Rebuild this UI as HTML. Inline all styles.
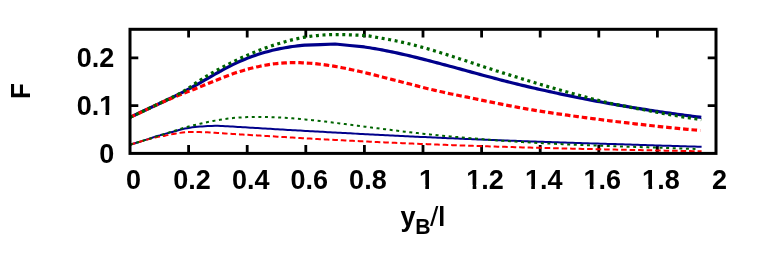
<!DOCTYPE html>
<html><head><meta charset="utf-8"><title>plot</title>
<style>
html,body{margin:0;padding:0;background:#fff;}
body{width:764px;height:265px;overflow:hidden;font-family:"Liberation Sans",sans-serif;}
svg{display:block;will-change:transform;}
text{font-family:"Liberation Sans",sans-serif;font-weight:bold;fill:#000;}
</style></head><body>
<svg width="764" height="265" viewBox="0 0 764 265">
<rect x="0" y="0" width="764" height="265" fill="#ffffff"/>
<path d="M188.60 153.40V145.10 M188.60 29.30V37.60 M247.20 153.40V145.10 M247.20 29.30V37.60 M305.80 153.40V145.10 M305.80 29.30V37.60 M364.40 153.40V145.10 M364.40 29.30V37.60 M423.00 153.40V145.10 M423.00 29.30V37.60 M481.60 153.40V145.10 M481.60 29.30V37.60 M540.20 153.40V145.10 M540.20 29.30V37.60 M598.80 153.40V145.10 M598.80 29.30V37.60 M657.40 153.40V145.10 M657.40 29.30V37.60 M130.00 105.65H138.30 M716.00 105.65H707.70 M130.00 57.90H138.30 M716.00 57.90H707.70 " stroke="#000" stroke-width="2.8" fill="none"/>
<g fill="none" stroke-linejoin="round" stroke-linecap="butt">
<path d="M130.00 117.40 C130.83 116.99 133.33 115.76 135.00 114.95 C136.67 114.15 138.33 113.35 140.00 112.56 C141.67 111.77 143.33 110.99 145.00 110.21 C146.67 109.43 148.33 108.66 150.00 107.89 C151.67 107.12 153.33 106.35 155.00 105.58 C156.67 104.81 158.33 104.04 160.00 103.27 C161.67 102.49 163.33 101.72 165.00 100.93 C166.67 100.15 168.33 99.36 170.00 98.56 C171.67 97.76 173.33 96.95 175.00 96.13 C176.67 95.31 178.33 94.48 180.00 93.64 C181.67 92.79 183.33 91.93 185.00 91.05 C186.67 90.18 188.33 89.28 190.00 88.37 C191.67 87.47 193.33 86.54 195.00 85.61 C196.67 84.68 198.33 83.74 200.00 82.79 C201.67 81.85 203.33 80.89 205.00 79.94 C206.67 78.99 208.33 78.03 210.00 77.07 C211.67 76.12 213.33 75.17 215.00 74.22 C216.67 73.28 218.33 72.34 220.00 71.41 C221.67 70.49 223.33 69.57 225.00 68.68 C226.67 67.78 228.33 66.91 230.00 66.06 C231.67 65.22 233.33 64.39 235.00 63.60 C236.67 62.81 238.33 62.04 240.00 61.31 C241.67 60.57 243.33 59.86 245.00 59.18 C246.67 58.50 248.33 57.84 250.00 57.22 C251.67 56.59 253.33 55.99 255.00 55.42 C256.67 54.85 258.33 54.30 260.00 53.78 C261.67 53.26 263.33 52.77 265.00 52.30 C266.67 51.82 268.33 51.38 270.00 50.96 C271.67 50.53 273.33 50.13 275.00 49.75 C276.67 49.38 278.33 49.02 280.00 48.69 C281.67 48.35 283.33 48.04 285.00 47.75 C286.67 47.46 288.33 47.19 290.00 46.94 C291.67 46.68 293.33 46.45 295.00 46.24 C296.67 46.02 298.20 45.84 300.00 45.65 C301.80 45.46 304.83 45.19 305.80 45.10 C310.68 44.92 330.22 44.20 335.10 44.02 C339.98 44.51 359.52 46.47 364.40 46.96 C365.30 47.10 368.07 47.51 369.80 47.79 C371.53 48.06 373.13 48.33 374.80 48.62 C376.47 48.91 378.13 49.20 379.80 49.51 C381.47 49.82 383.13 50.13 384.80 50.46 C386.47 50.78 388.13 51.12 389.80 51.46 C391.47 51.80 393.13 52.15 394.80 52.51 C396.47 52.86 398.13 53.23 399.80 53.60 C401.47 53.97 403.13 54.35 404.80 54.73 C406.47 55.12 408.13 55.51 409.80 55.90 C411.47 56.30 413.13 56.70 414.80 57.10 C416.47 57.51 418.13 57.92 419.80 58.34 C421.47 58.75 423.13 59.17 424.80 59.59 C426.47 60.02 428.13 60.45 429.80 60.88 C431.47 61.31 433.13 61.74 434.80 62.18 C436.47 62.62 438.13 63.06 439.80 63.50 C441.47 63.95 443.13 64.39 444.80 64.84 C446.47 65.29 448.13 65.74 449.80 66.19 C451.47 66.64 453.13 67.09 454.80 67.55 C456.47 68.00 458.13 68.46 459.80 68.91 C461.47 69.37 463.13 69.82 464.80 70.28 C466.47 70.74 468.13 71.19 469.80 71.65 C471.47 72.10 473.13 72.56 474.80 73.01 C476.47 73.47 478.13 73.92 479.80 74.37 C481.47 74.82 483.13 75.28 484.80 75.72 C486.47 76.17 488.13 76.62 489.80 77.06 C491.47 77.51 493.13 77.95 494.80 78.39 C496.47 78.83 498.13 79.26 499.80 79.70 C501.47 80.13 503.13 80.56 504.80 80.99 C506.47 81.41 508.13 81.83 509.80 82.25 C511.47 82.67 513.13 83.09 514.80 83.50 C516.47 83.91 518.13 84.32 519.80 84.73 C521.47 85.13 523.13 85.53 524.80 85.93 C526.47 86.33 528.13 86.73 529.80 87.12 C531.47 87.51 533.13 87.90 534.80 88.29 C536.47 88.67 538.13 89.06 539.80 89.44 C541.47 89.81 543.13 90.19 544.80 90.56 C546.47 90.94 548.13 91.31 549.80 91.67 C551.47 92.04 553.13 92.41 554.80 92.77 C556.47 93.13 558.13 93.48 559.80 93.84 C561.47 94.19 563.13 94.54 564.80 94.89 C566.47 95.24 568.13 95.59 569.80 95.93 C571.47 96.27 573.13 96.61 574.80 96.95 C576.47 97.28 578.13 97.62 579.80 97.95 C581.47 98.28 583.13 98.61 584.80 98.93 C586.47 99.26 588.13 99.58 589.80 99.90 C591.47 100.22 593.13 100.53 594.80 100.85 C596.47 101.16 598.13 101.47 599.80 101.78 C601.47 102.09 603.13 102.39 604.80 102.70 C606.47 103.00 608.13 103.30 609.80 103.60 C611.47 103.89 613.13 104.19 614.80 104.48 C616.47 104.77 618.13 105.06 619.80 105.35 C621.47 105.63 623.13 105.92 624.80 106.20 C626.47 106.48 628.13 106.76 629.80 107.03 C631.47 107.31 633.13 107.58 634.80 107.85 C636.47 108.12 638.13 108.39 639.80 108.66 C641.47 108.92 643.13 109.19 644.80 109.45 C646.47 109.71 648.13 109.97 649.80 110.22 C651.47 110.48 653.13 110.73 654.80 110.98 C656.47 111.24 658.13 111.48 659.80 111.73 C661.47 111.98 663.13 112.22 664.80 112.46 C666.47 112.70 668.13 112.94 669.80 113.18 C671.47 113.42 673.13 113.65 674.80 113.89 C676.47 114.12 678.13 114.35 679.80 114.58 C681.47 114.81 683.13 115.03 684.80 115.25 C686.47 115.48 688.13 115.70 689.80 115.92 C691.47 116.14 693.13 116.36 694.80 116.57 C696.47 116.79 698.72 117.07 699.80 117.21 C700.88 117.35 701.05 117.37 701.30 117.40" stroke="#00008b" stroke-width="3.2"/>
<path d="M130.00 117.40 C130.83 117.01 133.33 115.84 135.00 115.05 C136.67 114.26 138.33 113.47 140.00 112.68 C141.67 111.88 143.33 111.09 145.00 110.30 C146.67 109.50 148.33 108.71 150.00 107.92 C151.67 107.14 153.33 106.36 155.00 105.58 C156.67 104.81 158.33 104.04 160.00 103.29 C161.67 102.54 163.33 101.79 165.00 101.06 C166.67 100.33 168.33 99.62 170.00 98.92 C171.67 98.22 173.33 97.54 175.00 96.86 C176.67 96.19 178.33 95.53 180.00 94.86 C181.67 94.19 183.33 93.50 185.00 92.84 C186.67 92.18 188.33 91.55 190.00 90.89 C191.67 90.24 193.33 89.57 195.00 88.90 C196.67 88.24 198.33 87.59 200.00 86.91 C201.67 86.22 203.33 85.50 205.00 84.80 C206.67 84.11 208.33 83.42 210.00 82.74 C211.67 82.06 213.33 81.41 215.00 80.73 C216.67 80.06 218.33 79.36 220.00 78.69 C221.67 78.02 223.33 77.36 225.00 76.71 C226.67 76.07 228.33 75.44 230.00 74.82 C231.67 74.20 233.33 73.58 235.00 73.02 C236.67 72.45 238.33 71.93 240.00 71.42 C241.67 70.90 243.33 70.40 245.00 69.92 C246.67 69.45 248.33 68.99 250.00 68.55 C251.67 68.12 253.33 67.70 255.00 67.31 C256.67 66.92 258.33 66.54 260.00 66.20 C261.67 65.85 263.33 65.53 265.00 65.23 C266.67 64.93 268.33 64.66 270.00 64.41 C271.67 64.16 273.33 63.94 275.00 63.74 C276.67 63.55 278.33 63.38 280.00 63.24 C281.67 63.10 283.33 62.98 285.00 62.89 C286.67 62.80 288.33 62.73 290.00 62.69 C291.67 62.65 293.33 62.63 295.00 62.64 C296.67 62.64 298.33 62.67 300.00 62.71 C301.67 62.76 303.33 62.83 305.00 62.92 C306.67 63.01 308.33 63.12 310.00 63.25 C311.67 63.37 313.33 63.52 315.00 63.68 C316.67 63.85 318.33 64.03 320.00 64.23 C321.67 64.43 323.33 64.64 325.00 64.87 C326.67 65.10 328.33 65.35 330.00 65.61 C331.67 65.86 333.33 66.14 335.00 66.42 C336.67 66.71 338.33 67.01 340.00 67.32 C341.67 67.63 343.33 67.95 345.00 68.28 C346.67 68.62 348.33 68.96 350.00 69.31 C351.67 69.66 353.33 70.03 355.00 70.40 C356.67 70.77 358.33 71.15 360.00 71.53 C361.67 71.92 363.33 72.31 365.00 72.71 C366.67 73.10 368.33 73.51 370.00 73.92 C371.67 74.33 373.33 74.74 375.00 75.16 C376.67 75.58 378.33 76.00 380.00 76.42 C381.67 76.84 383.33 77.27 385.00 77.70 C386.67 78.12 388.33 78.55 390.00 78.98 C391.67 79.41 393.33 79.84 395.00 80.27 C396.67 80.70 398.33 81.12 400.00 81.55 C401.67 81.97 403.33 82.40 405.00 82.82 C406.67 83.23 408.33 83.63 410.00 84.06 C411.67 84.49 413.33 84.95 415.00 85.39 C416.67 85.83 418.33 86.27 420.00 86.70 C421.67 87.14 423.33 87.58 425.00 87.99 C426.67 88.40 428.33 88.78 430.00 89.17 C431.67 89.56 433.33 89.94 435.00 90.33 C436.67 90.71 438.33 91.09 440.00 91.47 C441.67 91.84 443.33 92.22 445.00 92.59 C446.67 92.97 448.33 93.35 450.00 93.71 C451.67 94.06 453.33 94.39 455.00 94.73 C456.67 95.07 458.33 95.41 460.00 95.74 C461.67 96.08 463.33 96.41 465.00 96.74 C466.67 97.07 468.33 97.39 470.00 97.73 C471.67 98.07 473.33 98.43 475.00 98.78 C476.67 99.13 478.33 99.48 480.00 99.82 C481.67 100.17 483.33 100.51 485.00 100.86 C486.67 101.20 488.33 101.54 490.00 101.88 C491.67 102.22 493.33 102.56 495.00 102.90 C496.67 103.23 498.33 103.57 500.00 103.90 C501.67 104.23 503.33 104.56 505.00 104.89 C506.67 105.21 508.33 105.54 510.00 105.86 C511.67 106.18 513.33 106.49 515.00 106.80 C516.67 107.12 518.33 107.43 520.00 107.73 C521.67 108.04 523.33 108.34 525.00 108.63 C526.67 108.93 528.33 109.22 530.00 109.51 C531.67 109.79 533.33 110.07 535.00 110.35 C536.67 110.63 538.33 110.90 540.00 111.16 C541.67 111.43 543.33 111.69 545.00 111.94 C546.67 112.20 548.33 112.45 550.00 112.70 C551.67 112.95 553.33 113.20 555.00 113.44 C556.67 113.68 558.33 113.92 560.00 114.15 C561.67 114.39 563.33 114.62 565.00 114.86 C566.67 115.09 568.33 115.32 570.00 115.55 C571.67 115.78 573.33 116.00 575.00 116.23 C576.67 116.46 578.33 116.68 580.00 116.91 C581.67 117.13 583.33 117.35 585.00 117.57 C586.67 117.79 588.33 118.01 590.00 118.23 C591.67 118.45 593.33 118.67 595.00 118.89 C596.67 119.10 598.33 119.32 600.00 119.53 C601.67 119.74 603.33 119.95 605.00 120.16 C606.67 120.37 608.33 120.58 610.00 120.79 C611.67 121.00 613.33 121.21 615.00 121.41 C616.67 121.61 618.33 121.82 620.00 122.02 C621.67 122.22 623.33 122.42 625.00 122.62 C626.67 122.82 628.33 123.02 630.00 123.21 C631.67 123.41 633.33 123.60 635.00 123.79 C636.67 123.99 638.33 124.18 640.00 124.37 C641.67 124.56 643.33 124.75 645.00 124.93 C646.67 125.12 648.33 125.30 650.00 125.49 C651.67 125.67 653.33 125.85 655.00 126.03 C656.67 126.21 658.33 126.39 660.00 126.57 C661.67 126.74 663.33 126.92 665.00 127.09 C666.67 127.26 668.33 127.44 670.00 127.61 C671.67 127.78 673.33 127.94 675.00 128.11 C676.67 128.28 678.33 128.44 680.00 128.60 C681.67 128.77 683.33 128.93 685.00 129.09 C686.67 129.25 688.33 129.40 690.00 129.56 C691.67 129.72 693.28 129.87 695.00 130.02 C696.72 130.18 699.42 130.42 700.30 130.50" stroke="#ff0000" stroke-width="3.2" stroke-dasharray="5.6 2.9"/>
<path d="M130.00 117.40 C130.83 117.01 133.33 115.84 135.00 115.06 C136.67 114.27 138.33 113.49 140.00 112.70 C141.67 111.91 143.33 111.12 145.00 110.33 C146.67 109.53 148.33 108.74 150.00 107.94 C151.67 107.15 153.33 106.35 155.00 105.55 C156.67 104.75 158.33 103.95 160.00 103.15 C161.67 102.35 163.33 101.55 165.00 100.74 C166.67 99.94 168.33 99.14 170.00 98.33 C171.67 97.52 173.33 96.73 175.00 95.89 C176.67 95.05 178.33 94.22 180.00 93.31 C181.67 92.40 183.33 91.46 185.00 90.44 C186.67 89.42 188.33 88.32 190.00 87.20 C191.67 86.07 193.33 84.83 195.00 83.68 C196.67 82.53 198.33 81.40 200.00 80.30 C201.67 79.20 203.33 78.12 205.00 77.10 C206.67 76.07 208.33 75.11 210.00 74.14 C211.67 73.18 213.33 72.23 215.00 71.29 C216.67 70.36 218.33 69.44 220.00 68.54 C221.67 67.64 223.33 66.76 225.00 65.89 C226.67 65.02 228.33 64.17 230.00 63.34 C231.67 62.50 233.33 61.68 235.00 60.88 C236.67 60.07 238.33 59.28 240.00 58.51 C241.67 57.74 243.33 56.98 245.00 56.24 C246.67 55.50 248.33 54.77 250.00 54.06 C251.67 53.34 253.33 52.64 255.00 51.96 C256.67 51.28 258.33 50.59 260.00 49.95 C261.67 49.31 263.33 48.71 265.00 48.12 C266.67 47.52 268.33 46.94 270.00 46.38 C271.67 45.82 273.33 45.27 275.00 44.74 C276.67 44.22 278.33 43.72 280.00 43.22 C281.67 42.72 283.33 42.21 285.00 41.73 C286.67 41.26 288.33 40.80 290.00 40.37 C291.67 39.95 293.33 39.54 295.00 39.15 C296.67 38.77 298.33 38.41 300.00 38.07 C301.67 37.74 303.33 37.43 305.00 37.14 C306.67 36.85 308.33 36.59 310.00 36.35 C311.67 36.11 313.33 35.90 315.00 35.71 C316.67 35.52 318.33 35.36 320.00 35.23 C321.67 35.09 323.33 34.98 325.00 34.89 C326.67 34.80 328.33 34.74 330.00 34.69 C331.67 34.64 333.33 34.61 335.00 34.60 C336.67 34.58 338.33 34.59 340.00 34.60 C341.67 34.62 343.33 34.65 345.00 34.69 C346.67 34.73 348.33 34.78 350.00 34.84 C351.67 34.89 353.33 34.96 355.00 35.03 C356.67 35.10 358.33 35.16 360.00 35.25 C361.67 35.34 363.33 35.41 365.00 35.56 C366.67 35.71 368.33 35.89 370.00 36.14 C371.67 36.39 373.33 36.75 375.00 37.06 C376.67 37.36 378.33 37.67 380.00 37.97 C381.67 38.27 383.33 38.54 385.00 38.84 C386.67 39.13 388.33 39.41 390.00 39.72 C391.67 40.03 393.33 40.35 395.00 40.69 C396.67 41.02 398.33 41.37 400.00 41.74 C401.67 42.10 403.33 42.48 405.00 42.87 C406.67 43.26 408.33 43.66 410.00 44.07 C411.67 44.49 413.33 44.91 415.00 45.35 C416.67 45.78 418.33 46.23 420.00 46.68 C421.67 47.13 423.33 47.60 425.00 48.07 C426.67 48.54 428.33 49.02 430.00 49.51 C431.67 50.00 433.33 50.49 435.00 50.99 C436.67 51.49 438.33 52.00 440.00 52.52 C441.67 53.03 443.33 53.55 445.00 54.07 C446.67 54.60 448.33 55.13 450.00 55.66 C451.67 56.19 453.33 56.73 455.00 57.27 C456.67 57.81 458.33 58.35 460.00 58.90 C461.67 59.44 463.33 59.99 465.00 60.54 C466.67 61.09 468.33 61.64 470.00 62.19 C471.67 62.74 473.33 63.30 475.00 63.85 C476.67 64.40 478.33 64.95 480.00 65.50 C481.67 66.05 483.33 66.60 485.00 67.15 C486.67 67.70 488.33 68.24 490.00 68.79 C491.67 69.33 493.33 69.87 495.00 70.40 C496.67 70.94 498.33 71.47 500.00 72.00 C501.67 72.53 503.33 73.05 505.00 73.57 C506.67 74.09 508.33 74.61 510.00 75.12 C511.67 75.63 513.33 76.13 515.00 76.64 C516.67 77.14 518.33 77.63 520.00 78.14 C521.67 78.65 523.33 79.18 525.00 79.70 C526.67 80.21 528.33 80.73 530.00 81.24 C531.67 81.75 533.33 82.26 535.00 82.77 C536.67 83.27 538.33 83.78 540.00 84.28 C541.67 84.78 543.33 85.29 545.00 85.78 C546.67 86.27 548.33 86.72 550.00 87.19 C551.67 87.66 553.33 88.13 555.00 88.59 C556.67 89.06 558.33 89.53 560.00 89.99 C561.67 90.46 563.33 90.92 565.00 91.39 C566.67 91.85 568.33 92.31 570.00 92.78 C571.67 93.24 573.33 93.71 575.00 94.17 C576.67 94.63 578.33 95.09 580.00 95.55 C581.67 96.00 583.33 96.46 585.00 96.91 C586.67 97.36 588.33 97.81 590.00 98.25 C591.67 98.69 593.33 99.12 595.00 99.55 C596.67 99.98 598.33 100.41 600.00 100.82 C601.67 101.24 603.33 101.65 605.00 102.04 C606.67 102.44 608.33 102.84 610.00 103.22 C611.67 103.59 613.33 103.92 615.00 104.27 C616.67 104.61 618.33 104.95 620.00 105.28 C621.67 105.61 623.33 105.94 625.00 106.26 C626.67 106.58 628.33 106.89 630.00 107.21 C631.67 107.52 633.33 107.83 635.00 108.14 C636.67 108.45 638.33 108.74 640.00 109.06 C641.67 109.37 643.33 109.71 645.00 110.03 C646.67 110.35 648.33 110.67 650.00 110.99 C651.67 111.30 653.33 111.61 655.00 111.92 C656.67 112.23 658.33 112.54 660.00 112.85 C661.67 113.15 663.33 113.45 665.00 113.75 C666.67 114.05 668.33 114.34 670.00 114.64 C671.67 114.93 673.33 115.22 675.00 115.50 C676.67 115.79 678.33 116.07 680.00 116.35 C681.67 116.63 683.33 116.90 685.00 117.17 C686.67 117.44 688.33 117.71 690.00 117.97 C691.67 118.24 693.33 118.50 695.00 118.75 C696.67 119.01 698.95 119.35 700.00 119.51 C701.05 119.67 701.08 119.67 701.30 119.70" stroke="#006400" stroke-width="3.2" stroke-dasharray="3.0 3.6"/>
<path d="M130.00 144.70 C130.83 144.45 133.33 143.73 135.00 143.23 C136.67 142.73 138.33 142.22 140.00 141.69 C141.67 141.17 143.33 140.63 145.00 140.10 C146.67 139.56 148.33 139.04 150.00 138.49 C151.67 137.95 153.33 137.34 155.00 136.82 C156.67 136.30 158.33 135.84 160.00 135.35 C161.67 134.86 163.33 134.35 165.00 133.88 C166.67 133.40 168.33 132.94 170.00 132.50 C171.67 132.06 173.33 131.68 175.00 131.23 C176.67 130.78 178.33 130.23 180.00 129.78 C181.67 129.34 183.33 128.91 185.00 128.55 C186.67 128.19 188.33 127.90 190.00 127.64 C191.67 127.38 193.33 127.17 195.00 126.98 C196.67 126.79 198.33 126.64 200.00 126.51 C201.67 126.37 203.33 126.27 205.00 126.18 C206.67 126.09 208.33 126.02 210.00 125.95 C211.67 125.89 213.70 125.83 215.00 125.78 C216.30 125.74 217.33 125.71 217.80 125.69 C218.63 125.74 221.13 125.89 222.80 125.99 C224.47 126.09 226.13 126.19 227.80 126.30 C229.47 126.40 231.13 126.50 232.80 126.60 C234.47 126.70 236.13 126.81 237.80 126.91 C239.47 127.01 241.13 127.11 242.80 127.21 C244.47 127.31 246.13 127.41 247.80 127.51 C249.47 127.61 251.13 127.71 252.80 127.81 C254.47 127.91 256.13 128.01 257.80 128.11 C259.47 128.21 261.13 128.31 262.80 128.41 C264.47 128.51 266.13 128.61 267.80 128.71 C269.47 128.81 271.13 128.91 272.80 129.00 C274.47 129.10 276.13 129.20 277.80 129.30 C279.47 129.40 281.13 129.49 282.80 129.59 C284.47 129.69 286.13 129.78 287.80 129.88 C289.47 129.98 291.13 130.07 292.80 130.17 C294.47 130.27 296.13 130.36 297.80 130.46 C299.47 130.55 301.13 130.65 302.80 130.74 C304.47 130.84 306.13 130.93 307.80 131.03 C309.47 131.12 311.13 131.21 312.80 131.31 C314.47 131.40 316.13 131.49 317.80 131.59 C319.47 131.68 321.13 131.77 322.80 131.87 C324.47 131.96 326.13 132.05 327.80 132.14 C329.47 132.23 331.13 132.33 332.80 132.42 C334.47 132.51 336.13 132.60 337.80 132.69 C339.47 132.78 341.13 132.87 342.80 132.96 C344.47 133.05 346.13 133.14 347.80 133.23 C349.47 133.32 351.13 133.41 352.80 133.49 C354.47 133.58 356.13 133.67 357.80 133.76 C359.47 133.85 361.13 133.93 362.80 134.02 C364.47 134.11 366.13 134.20 367.80 134.28 C369.47 134.37 371.13 134.45 372.80 134.54 C374.47 134.63 376.13 134.71 377.80 134.80 C379.47 134.88 381.13 134.97 382.80 135.05 C384.47 135.13 386.13 135.22 387.80 135.30 C389.47 135.38 391.13 135.47 392.80 135.55 C394.47 135.63 396.13 135.72 397.80 135.80 C399.47 135.88 401.13 135.96 402.80 136.04 C404.47 136.12 406.13 136.20 407.80 136.28 C409.47 136.36 411.13 136.44 412.80 136.52 C414.47 136.60 416.13 136.68 417.80 136.76 C419.47 136.84 421.13 136.92 422.80 137.00 C424.47 137.07 426.13 137.15 427.80 137.23 C429.47 137.30 431.13 137.38 432.80 137.46 C434.47 137.53 436.13 137.61 437.80 137.68 C439.47 137.76 441.13 137.83 442.80 137.91 C444.47 137.98 446.13 138.06 447.80 138.13 C449.47 138.20 451.13 138.28 452.80 138.35 C454.47 138.42 456.13 138.49 457.80 138.57 C459.47 138.64 461.13 138.71 462.80 138.78 C464.47 138.85 466.13 138.92 467.80 138.99 C469.47 139.06 471.13 139.13 472.80 139.20 C474.47 139.27 476.13 139.34 477.80 139.40 C479.47 139.47 481.13 139.54 482.80 139.61 C484.47 139.67 486.13 139.74 487.80 139.81 C489.47 139.87 491.13 139.94 492.80 140.01 C494.47 140.07 496.13 140.14 497.80 140.20 C499.47 140.26 501.13 140.33 502.80 140.39 C504.47 140.46 506.13 140.52 507.80 140.58 C509.47 140.65 511.13 140.71 512.80 140.77 C514.47 140.83 516.13 140.89 517.80 140.96 C519.47 141.02 521.13 141.08 522.80 141.14 C524.47 141.20 526.13 141.26 527.80 141.32 C529.47 141.38 531.13 141.44 532.80 141.50 C534.47 141.55 536.13 141.61 537.80 141.67 C539.47 141.73 541.13 141.79 542.80 141.84 C544.47 141.90 546.13 141.96 547.80 142.02 C549.47 142.07 551.13 142.13 552.80 142.18 C554.47 142.24 556.13 142.29 557.80 142.35 C559.47 142.40 561.13 142.46 562.80 142.51 C564.47 142.57 566.13 142.62 567.80 142.68 C569.47 142.73 571.13 142.78 572.80 142.84 C574.47 142.89 576.13 142.94 577.80 142.99 C579.47 143.04 581.13 143.10 582.80 143.15 C584.47 143.20 586.13 143.25 587.80 143.30 C589.47 143.35 591.13 143.40 592.80 143.45 C594.47 143.50 596.13 143.55 597.80 143.60 C599.47 143.65 601.13 143.70 602.80 143.75 C604.47 143.80 606.13 143.85 607.80 143.89 C609.47 143.94 611.13 143.99 612.80 144.04 C614.47 144.08 616.13 144.13 617.80 144.18 C619.47 144.23 621.13 144.28 622.80 144.34 C624.47 144.39 626.13 144.45 627.80 144.50 C629.47 144.56 631.13 144.62 632.80 144.67 C634.47 144.73 636.13 144.78 637.80 144.83 C639.47 144.89 641.13 144.94 642.80 145.00 C644.47 145.05 646.13 145.11 647.80 145.16 C649.47 145.21 651.13 145.27 652.80 145.32 C654.47 145.37 656.13 145.42 657.80 145.48 C659.47 145.53 661.13 145.58 662.80 145.63 C664.47 145.68 666.13 145.74 667.80 145.79 C669.47 145.84 671.13 145.89 672.80 145.94 C674.47 145.99 676.13 146.04 677.80 146.09 C679.47 146.14 681.13 146.19 682.80 146.24 C684.47 146.29 686.13 146.34 687.80 146.39 C689.47 146.44 691.13 146.49 692.80 146.53 C694.47 146.58 696.33 146.64 697.80 146.68 C699.27 146.72 700.97 146.77 701.60 146.78" stroke="#00008b" stroke-width="2.0"/>
<path d="M130.00 144.70 C130.83 144.46 133.33 143.74 135.00 143.24 C136.67 142.74 138.33 142.22 140.00 141.71 C141.67 141.19 143.33 140.63 145.00 140.16 C146.67 139.68 148.33 139.27 150.00 138.84 C151.67 138.41 153.33 137.97 155.00 137.60 C156.67 137.23 158.33 136.92 160.00 136.61 C161.67 136.31 163.33 136.08 165.00 135.75 C166.67 135.42 168.33 134.98 170.00 134.63 C171.67 134.28 173.33 133.95 175.00 133.66 C176.67 133.37 178.33 133.09 180.00 132.87 C181.67 132.64 183.33 132.44 185.00 132.30 C186.67 132.16 188.33 132.09 190.00 132.04 C191.67 131.99 193.33 131.98 195.00 131.99 C196.67 132.00 198.33 132.03 200.00 132.08 C201.67 132.12 203.33 132.18 205.00 132.25 C206.67 132.32 208.33 132.40 210.00 132.48 C211.67 132.57 213.33 132.67 215.00 132.77 C216.67 132.87 218.33 132.98 220.00 133.09 C221.67 133.20 223.33 133.32 225.00 133.44 C226.67 133.55 228.33 133.69 230.00 133.80 C231.67 133.91 233.33 134.01 235.00 134.11 C236.67 134.22 238.33 134.32 240.00 134.42 C241.67 134.52 243.33 134.63 245.00 134.73 C246.67 134.82 248.33 134.92 250.00 135.02 C251.67 135.12 253.33 135.22 255.00 135.31 C256.67 135.41 258.33 135.50 260.00 135.60 C261.67 135.69 263.33 135.78 265.00 135.88 C266.67 135.97 268.33 136.05 270.00 136.15 C271.67 136.25 273.33 136.37 275.00 136.47 C276.67 136.58 278.33 136.69 280.00 136.79 C281.67 136.90 283.33 137.00 285.00 137.10 C286.67 137.21 288.33 137.31 290.00 137.41 C291.67 137.51 293.33 137.61 295.00 137.71 C296.67 137.81 298.33 137.91 300.00 138.01 C301.67 138.11 303.33 138.21 305.00 138.30 C306.67 138.40 308.33 138.50 310.00 138.59 C311.67 138.69 313.33 138.78 315.00 138.87 C316.67 138.97 318.33 139.06 320.00 139.15 C321.67 139.24 323.33 139.34 325.00 139.43 C326.67 139.52 328.33 139.61 330.00 139.70 C331.67 139.78 333.33 139.87 335.00 139.96 C336.67 140.05 338.33 140.14 340.00 140.22 C341.67 140.31 343.33 140.39 345.00 140.48 C346.67 140.56 348.33 140.65 350.00 140.73 C351.67 140.81 353.33 140.90 355.00 140.98 C356.67 141.06 358.33 141.14 360.00 141.23 C361.67 141.31 363.33 141.39 365.00 141.47 C366.67 141.55 368.33 141.63 370.00 141.70 C371.67 141.78 373.33 141.86 375.00 141.94 C376.67 142.02 378.33 142.09 380.00 142.17 C381.67 142.25 383.33 142.32 385.00 142.40 C386.67 142.47 388.33 142.55 390.00 142.62 C391.67 142.69 393.33 142.77 395.00 142.84 C396.67 142.91 398.33 142.98 400.00 143.06 C401.67 143.13 403.33 143.20 405.00 143.27 C406.67 143.34 408.33 143.41 410.00 143.48 C411.67 143.55 413.33 143.62 415.00 143.69 C416.67 143.75 418.33 143.82 420.00 143.89 C421.67 143.96 423.33 144.02 425.00 144.09 C426.67 144.16 428.33 144.22 430.00 144.29 C431.67 144.35 433.33 144.42 435.00 144.48 C436.67 144.54 438.33 144.61 440.00 144.67 C441.67 144.73 443.33 144.80 445.00 144.86 C446.67 144.92 448.33 144.98 450.00 145.04 C451.67 145.10 453.33 145.16 455.00 145.22 C456.67 145.28 458.33 145.34 460.00 145.40 C461.67 145.46 463.33 145.52 465.00 145.58 C466.67 145.63 468.33 145.69 470.00 145.75 C471.67 145.80 473.33 145.86 475.00 145.92 C476.67 145.97 478.33 146.03 480.00 146.08 C481.67 146.14 483.33 146.19 485.00 146.25 C486.67 146.30 488.33 146.35 490.00 146.41 C491.67 146.46 493.33 146.51 495.00 146.56 C496.67 146.62 498.33 146.67 500.00 146.72 C501.67 146.77 503.33 146.82 505.00 146.87 C506.67 146.92 508.33 146.97 510.00 147.02 C511.67 147.07 513.33 147.12 515.00 147.17 C516.67 147.21 518.33 147.26 520.00 147.31 C521.67 147.36 523.33 147.40 525.00 147.45 C526.67 147.50 528.33 147.54 530.00 147.59 C531.67 147.63 533.33 147.68 535.00 147.72 C536.67 147.77 538.33 147.81 540.00 147.86 C541.67 147.90 543.33 147.95 545.00 147.99 C546.67 148.03 548.33 148.08 550.00 148.12 C551.67 148.16 553.33 148.20 555.00 148.24 C556.67 148.29 558.33 148.33 560.00 148.37 C561.67 148.41 563.33 148.45 565.00 148.49 C566.67 148.53 568.33 148.57 570.00 148.61 C571.67 148.65 573.33 148.69 575.00 148.72 C576.67 148.76 578.33 148.80 580.00 148.84 C581.67 148.88 583.33 148.91 585.00 148.95 C586.67 148.99 588.33 149.02 590.00 149.06 C591.67 149.10 593.33 149.13 595.00 149.17 C596.67 149.20 598.33 149.24 600.00 149.27 C601.67 149.31 603.33 149.34 605.00 149.38 C606.67 149.41 608.33 149.44 610.00 149.48 C611.67 149.51 613.33 149.54 615.00 149.58 C616.67 149.61 618.33 149.64 620.00 149.67 C621.67 149.71 623.33 149.75 625.00 149.79 C626.67 149.82 628.33 149.86 630.00 149.90 C631.67 149.93 633.33 149.97 635.00 150.01 C636.67 150.04 638.33 150.08 640.00 150.12 C641.67 150.15 643.33 150.19 645.00 150.22 C646.67 150.26 648.33 150.29 650.00 150.33 C651.67 150.36 653.33 150.39 655.00 150.43 C656.67 150.46 658.33 150.49 660.00 150.53 C661.67 150.56 663.33 150.59 665.00 150.63 C666.67 150.66 668.33 150.69 670.00 150.72 C671.67 150.76 673.33 150.79 675.00 150.82 C676.67 150.85 678.33 150.88 680.00 150.91 C681.67 150.94 683.33 150.97 685.00 151.00 C686.67 151.04 688.33 151.07 690.00 151.10 C691.67 151.13 693.33 151.15 695.00 151.18 C696.67 151.21 698.90 151.25 700.00 151.27 C701.10 151.29 701.33 151.29 701.60 151.30" stroke="#ff0000" stroke-width="2.0" stroke-dasharray="5.6 2.9"/>
<path d="M130.00 144.70 C130.83 144.44 133.33 143.64 135.00 143.13 C136.67 142.61 138.33 142.11 140.00 141.61 C141.67 141.10 143.33 140.60 145.00 140.10 C146.67 139.60 148.33 139.11 150.00 138.59 C151.67 138.06 153.33 137.48 155.00 136.95 C156.67 136.42 158.33 135.93 160.00 135.41 C161.67 134.88 163.33 134.34 165.00 133.79 C166.67 133.24 168.33 132.67 170.00 132.14 C171.67 131.60 173.33 131.11 175.00 130.59 C176.67 130.07 178.33 129.52 180.00 129.02 C181.67 128.51 183.33 128.02 185.00 127.55 C186.67 127.08 188.33 126.63 190.00 126.20 C191.67 125.76 193.33 125.34 195.00 124.93 C196.67 124.52 198.33 124.13 200.00 123.75 C201.67 123.36 203.33 122.99 205.00 122.63 C206.67 122.28 208.33 121.93 210.00 121.59 C211.67 121.26 213.33 120.93 215.00 120.62 C216.67 120.31 218.33 120.00 220.00 119.73 C221.67 119.45 223.33 119.20 225.00 118.97 C226.67 118.74 228.33 118.54 230.00 118.36 C231.67 118.17 233.33 118.01 235.00 117.86 C236.67 117.72 238.33 117.60 240.00 117.49 C241.67 117.38 243.33 117.29 245.00 117.22 C246.67 117.14 248.33 117.08 250.00 117.04 C251.67 116.99 253.33 116.96 255.00 116.94 C256.67 116.92 258.33 116.91 260.00 116.91 C261.67 116.92 263.33 116.94 265.00 116.96 C266.67 116.99 268.33 117.03 270.00 117.08 C271.67 117.13 273.33 117.19 275.00 117.26 C276.67 117.33 278.33 117.41 280.00 117.49 C281.67 117.58 283.33 117.68 285.00 117.79 C286.67 117.89 288.33 118.01 290.00 118.13 C291.67 118.25 293.33 118.38 295.00 118.52 C296.67 118.66 298.33 118.80 300.00 118.95 C301.67 119.10 303.33 119.26 305.00 119.42 C306.67 119.58 308.33 119.75 310.00 119.92 C311.67 120.10 313.33 120.28 315.00 120.46 C316.67 120.64 318.33 120.83 320.00 121.02 C321.67 121.21 323.33 121.40 325.00 121.60 C326.67 121.80 328.33 122.00 330.00 122.20 C331.67 122.40 333.33 122.61 335.00 122.81 C336.67 123.02 338.33 123.23 340.00 123.44 C341.67 123.65 343.33 123.86 345.00 124.07 C346.67 124.28 348.33 124.49 350.00 124.71 C351.67 124.92 353.33 125.14 355.00 125.36 C356.67 125.57 358.33 125.79 360.00 126.00 C361.67 126.22 363.33 126.44 365.00 126.65 C366.67 126.87 368.33 127.09 370.00 127.30 C371.67 127.52 373.33 127.74 375.00 127.95 C376.67 128.16 378.33 128.38 380.00 128.59 C381.67 128.80 383.33 129.02 385.00 129.23 C386.67 129.44 388.33 129.65 390.00 129.85 C391.67 130.06 393.33 130.27 395.00 130.47 C396.67 130.67 398.33 130.87 400.00 131.07 C401.67 131.27 403.33 131.47 405.00 131.66 C406.67 131.86 408.33 132.05 410.00 132.24 C411.67 132.43 413.33 132.62 415.00 132.80 C416.67 132.99 418.33 133.17 420.00 133.35 C421.67 133.54 423.33 133.72 425.00 133.89 C426.67 134.07 428.33 134.25 430.00 134.42 C431.67 134.60 433.33 134.77 435.00 134.94 C436.67 135.11 438.33 135.27 440.00 135.44 C441.67 135.60 443.33 135.77 445.00 135.93 C446.67 136.09 448.33 136.25 450.00 136.41 C451.67 136.57 453.33 136.72 455.00 136.87 C456.67 137.03 458.33 137.18 460.00 137.33 C461.67 137.48 463.33 137.63 465.00 137.77 C466.67 137.92 468.33 138.06 470.00 138.20 C471.67 138.35 473.33 138.49 475.00 138.62 C476.67 138.76 478.33 138.90 480.00 139.03 C481.67 139.17 483.33 139.30 485.00 139.43 C486.67 139.56 488.33 139.69 490.00 139.82 C491.67 139.94 493.33 140.07 495.00 140.19 C496.67 140.31 498.33 140.44 500.00 140.55 C501.67 140.67 503.33 140.79 505.00 140.91 C506.67 141.02 508.33 141.14 510.00 141.25 C511.67 141.36 513.33 141.47 515.00 141.58 C516.67 141.69 518.33 141.79 520.00 141.90 C521.67 142.00 523.33 142.11 525.00 142.21 C526.67 142.31 528.33 142.41 530.00 142.51 C531.67 142.61 533.33 142.70 535.00 142.80 C536.67 142.89 538.33 142.98 540.00 143.08 C541.67 143.17 543.33 143.26 545.00 143.34 C546.67 143.43 548.33 143.52 550.00 143.60 C551.67 143.69 553.33 143.77 555.00 143.85 C556.67 143.93 558.33 144.01 560.00 144.09 C561.67 144.17 563.33 144.25 565.00 144.32 C566.67 144.40 568.33 144.47 570.00 144.54 C571.67 144.62 573.33 144.69 575.00 144.76 C576.67 144.83 578.33 144.90 580.00 144.97 C581.67 145.03 583.33 145.10 585.00 145.17 C586.67 145.23 588.33 145.30 590.00 145.36 C591.67 145.42 593.33 145.49 595.00 145.55 C596.67 145.61 598.33 145.67 600.00 145.73 C601.67 145.79 603.33 145.85 605.00 145.90 C606.67 145.96 608.33 146.02 610.00 146.08 C611.67 146.13 613.33 146.19 615.00 146.24 C616.67 146.30 618.33 146.35 620.00 146.40 C621.67 146.46 623.33 146.53 625.00 146.59 C626.67 146.65 628.33 146.71 630.00 146.76 C631.67 146.82 633.33 146.88 635.00 146.94 C636.67 147.00 638.33 147.06 640.00 147.11 C641.67 147.17 643.33 147.23 645.00 147.28 C646.67 147.34 648.33 147.40 650.00 147.45 C651.67 147.51 653.33 147.57 655.00 147.62 C656.67 147.68 658.33 147.73 660.00 147.79 C661.67 147.84 663.33 147.90 665.00 147.95 C666.67 148.01 668.33 148.06 670.00 148.12 C671.67 148.17 673.33 148.23 675.00 148.28 C676.67 148.34 678.33 148.39 680.00 148.45 C681.67 148.50 683.33 148.56 685.00 148.61 C686.67 148.67 688.33 148.73 690.00 148.78 C691.67 148.84 693.50 148.90 695.00 148.95 C696.50 149.00 698.33 149.06 699.00 149.09" stroke="#006400" stroke-width="2.0" stroke-dasharray="3.0 3.6"/>
</g>
<rect x="130.00" y="29.30" width="586.00" height="124.10" stroke="#000" stroke-width="3.0" fill="none"/>
<g>
<g transform="translate(133.50 189.40) scale(1.0200 1.0660)"><text text-anchor="middle" font-size="26.50">0</text></g>
<g transform="translate(192.10 189.40) scale(1.0200 1.0660)"><text text-anchor="middle" font-size="26.50">0.2</text></g>
<g transform="translate(250.70 189.40) scale(1.0200 1.0660)"><text text-anchor="middle" font-size="26.50">0.4</text></g>
<g transform="translate(309.30 189.40) scale(1.0200 1.0660)"><text text-anchor="middle" font-size="26.50">0.6</text></g>
<g transform="translate(367.90 189.40) scale(1.0200 1.0660)"><text text-anchor="middle" font-size="26.50">0.8</text></g>
<g transform="translate(426.50 189.40) scale(1.0200 1.0660)"><text text-anchor="middle" font-size="26.50">1</text><rect x="-6.59" y="-4.27" width="5.41" height="5.07" fill="#fff"/><rect x="2.45" y="-4.27" width="5.71" height="5.07" fill="#fff"/></g>
<g transform="translate(485.10 189.40) scale(1.0200 1.0660)"><text text-anchor="middle" font-size="26.50">1.2</text><rect x="-17.64" y="-4.27" width="5.41" height="5.07" fill="#fff"/><rect x="-8.60" y="-4.27" width="5.71" height="5.07" fill="#fff"/></g>
<g transform="translate(543.70 189.40) scale(1.0200 1.0660)"><text text-anchor="middle" font-size="26.50">1.4</text><rect x="-17.64" y="-4.27" width="5.41" height="5.07" fill="#fff"/><rect x="-8.60" y="-4.27" width="5.71" height="5.07" fill="#fff"/></g>
<g transform="translate(602.30 189.40) scale(1.0200 1.0660)"><text text-anchor="middle" font-size="26.50">1.6</text><rect x="-17.64" y="-4.27" width="5.41" height="5.07" fill="#fff"/><rect x="-8.60" y="-4.27" width="5.71" height="5.07" fill="#fff"/></g>
<g transform="translate(660.90 189.40) scale(1.0200 1.0660)"><text text-anchor="middle" font-size="26.50">1.8</text><rect x="-17.64" y="-4.27" width="5.41" height="5.07" fill="#fff"/><rect x="-8.60" y="-4.27" width="5.71" height="5.07" fill="#fff"/></g>
<g transform="translate(719.50 189.40) scale(1.0200 1.0660)"><text text-anchor="middle" font-size="26.50">2</text></g>
<g transform="translate(114.20 162.60) scale(1.0200 1.0660)"><text text-anchor="end" font-size="26.50">0</text></g>
<g transform="translate(114.20 114.85) scale(1.0200 1.0660)"><text text-anchor="end" font-size="26.50">0.1</text><rect x="-13.96" y="-4.27" width="5.41" height="5.07" fill="#fff"/><rect x="-4.92" y="-4.27" width="5.71" height="5.07" fill="#fff"/></g>
<g transform="translate(114.20 67.10) scale(1.0200 1.0660)"><text text-anchor="end" font-size="26.50">0.2</text></g>
<g transform="translate(29.95 91.05) rotate(-90) scale(0.9780 1.0580)"><text text-anchor="middle" font-size="26.50">F</text></g>
<g transform="translate(408.00 225.80) scale(1.0200 1.0400)"><text text-anchor="middle" font-size="26.50">y</text></g>
<g transform="translate(422.90 233.90) scale(1.0000 1.0500)"><text text-anchor="middle" font-size="21.20">B</text></g>
<g transform="translate(434.15 225.80) scale(1.1400 1.0400)"><text style="font-weight:normal" text-anchor="middle" font-size="26.50">/</text></g>
<g transform="translate(441.70 225.80) scale(0.9500 1.0400)"><text text-anchor="middle" font-size="26.50">l</text></g>
</g>
</svg>
</body></html>
